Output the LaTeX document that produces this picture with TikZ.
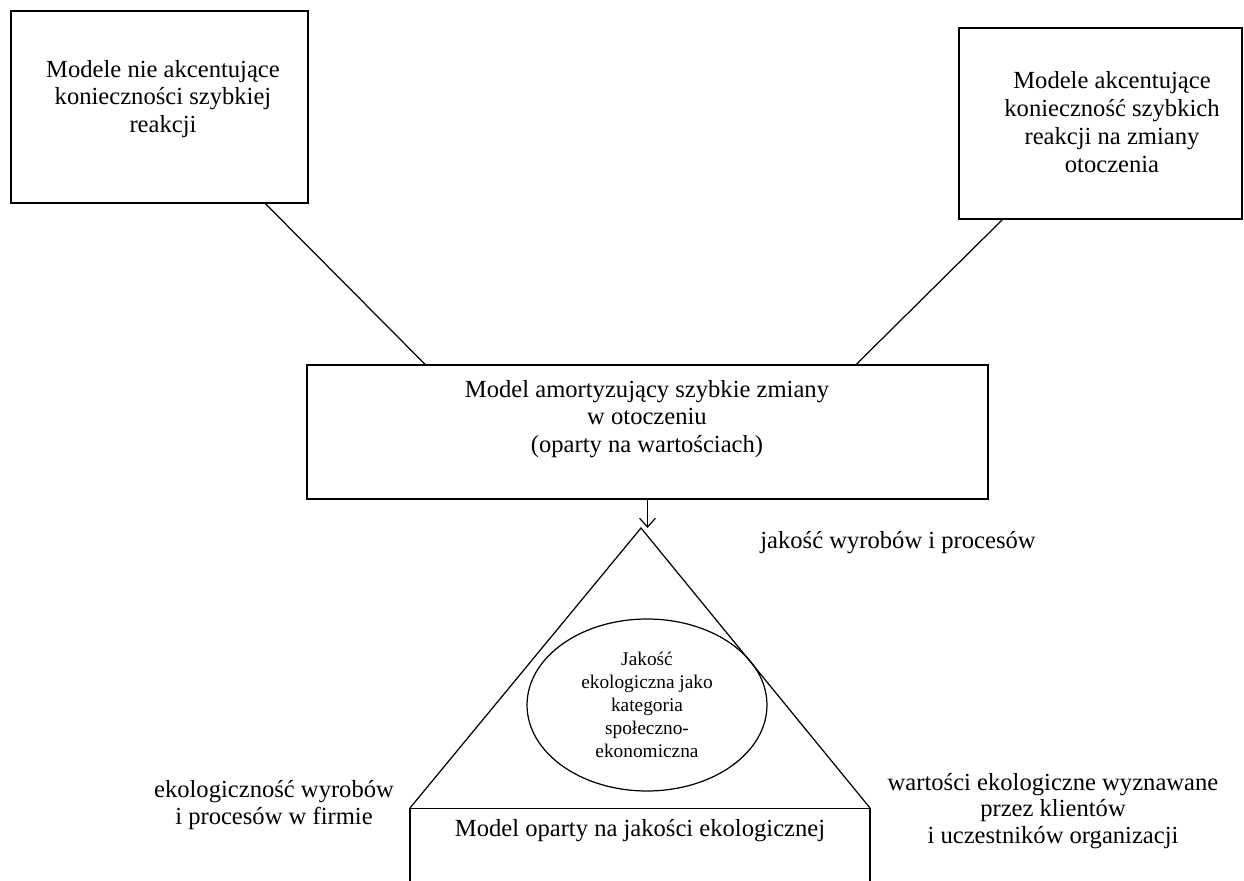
\documentclass[tikz,border=0pt]{standalone}
\usepackage{fontspec}
\setmainfont{Liberation Serif}
\usetikzlibrary{calc, positioning, shapes.geometric, arrows.meta}

\tikzset{
  modelbox/.style={draw, line width=0.7pt, inner sep=0pt},
  boxtext/.style={align=center, font=\fontsize{14}{15.8}\selectfont},
  sidetext/.style={align=center, font=\fontsize{14}{15}\selectfont},
  link/.style={line width=0.7pt},
}

\begin{document}
\begin{tikzpicture}[x=0.02cm, y=-0.02cm]
  \useasboundingbox (0,0) rectangle (1244,881);

  % Top boxes
  \node[modelbox, minimum width=5.94cm, minimum height=3.84cm] (slow) at (159.5,107) {};
  \node[boxtext] (slowtext) at (163,99) {Modele nie akcentujące\\konieczności szybkiej\\reakcji};

  \node[modelbox, minimum width=5.66cm, minimum height=3.82cm] (fast) at (1100.5,123.5) {};
  \node[boxtext] (fasttext) at (1112,122) {Modele akcentujące\\konieczność szybkich\\reakcji na zmiany\\otoczenia};

  % Middle box
  \node[modelbox, minimum width=13.62cm, minimum height=2.68cm] (mid) at (647.5,432) {};
  \node[boxtext] (midtext) at (647,419) {Model amortyzujący szybkie zmiany\\w otoczeniu\\(oparty na wartościach)};

  % Lines into the middle box
  \draw[link] ($(slow.south west)!0.855!(slow.south east)$) -- ($(mid.north west)!0.174!(mid.north east)$);
  \draw[link] ($(fast.south west)!0.155!(fast.south east)$) -- ($(mid.north west)!0.806!(mid.north east)$);

  % Triangle
  \coordinate (apex) at (641,528);
  \coordinate (baseL) at (410,808);
  \coordinate (baseR) at (870,808);
  \draw[link] (baseL) -- (apex) -- (baseR);
  \draw[link, -{Straight Barb[length=5pt, width=9pt]}] (mid.south) -- (mid.south |- apex);

  % Ellipse in the triangle
  \node[ellipse, draw, line width=0.7pt, minimum width=4.8cm, minimum height=3.44cm, align=center,
        font=\fontsize{11}{13}\selectfont] (eco) at (647,705)
       {Jakość\\ekologiczna jako\\kategoria\\społeczno-\\ekonomiczna};

  % Bottom box, cut by the page edge
  \node[modelbox, anchor=north, minimum width=9.2cm, minimum height=2cm] (base) at ($(baseL)!0.5!(baseR)$) {};
  \node[boxtext] (basetext) at (640,831) {Model oparty na jakości ekologicznej};

  % Side labels
  \node[sidetext] (top) at (898,543) {jakość wyrobów i procesów};
  \node[sidetext] (left) at (274,805) {ekologiczność wyrobów\\i procesów w firmie};
  \node[sidetext] (right) at (1053,811) {wartości ekologiczne wyznawane\\przez klientów\\i uczestników organizacji};
\end{tikzpicture}
\end{document}
